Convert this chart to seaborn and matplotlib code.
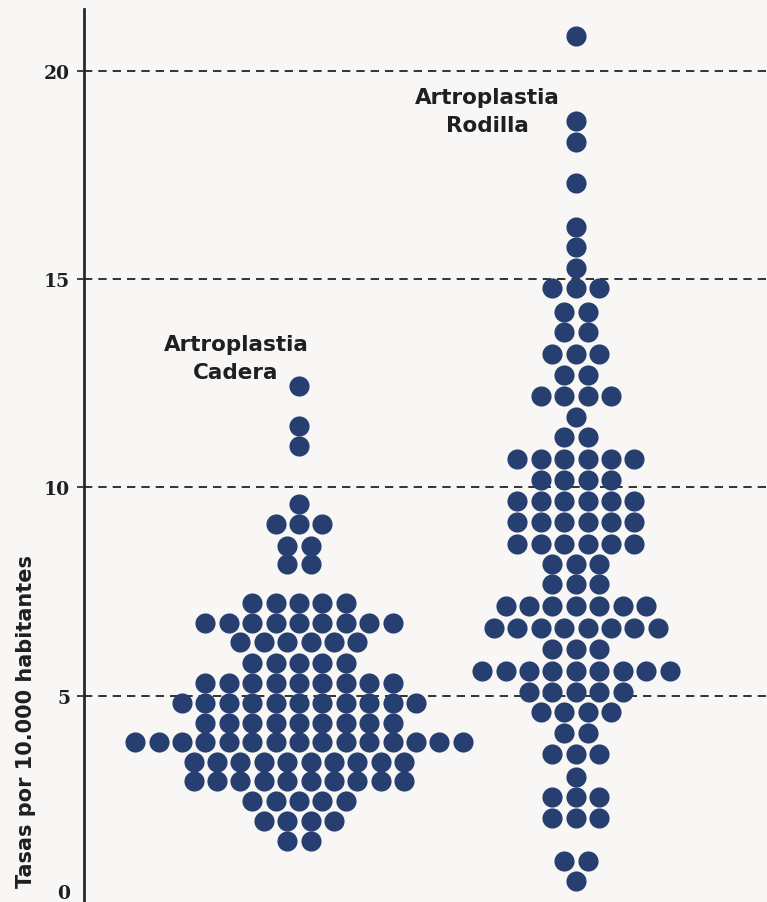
import numpy as np
import pandas as pd
import matplotlib
matplotlib.use("Agg")
import matplotlib.pyplot as plt
import matplotlib.transforms as mtransforms
import seaborn as sns

# rows of the dot plot: rate value of each row and number of dots in it
groups = ["Artroplastia\nCadera", "Artroplastia\nRodilla"]

cadera_vals = [12.43, 11.48, 11.00, 9.60, 9.12, 8.59, 8.16, 7.22, 6.74, 6.29,
               5.78, 5.30, 4.82, 4.34, 3.89, 3.41, 2.95, 2.47, 1.99, 1.51]
cadera_counts = [1, 1, 1, 1, 3, 2, 2, 5, 9, 6,
                 5, 9, 11, 9, 15, 10, 10, 5, 4, 2]

rodilla_vals = [20.84, 18.80, 18.28, 17.30, 16.26, 15.76, 15.26, 14.78, 14.20, 13.73,
                13.20, 12.70, 12.20, 11.70, 11.20, 10.68, 10.17, 9.68, 9.16, 8.64,
                8.16, 7.68, 7.16, 6.62, 6.12, 5.60, 5.10, 4.61, 4.10, 3.60,
                3.04, 2.56, 2.06, 1.04, 0.56]
rodilla_counts = [1, 1, 1, 1, 1, 1, 1, 3, 2, 2,
                  3, 2, 4, 1, 2, 6, 4, 6, 6, 6,
                  3, 3, 7, 8, 3, 9, 5, 4, 2, 3,
                  1, 3, 3, 2, 1]

y_ticks = [0, 5, 10, 15, 20]
grid_lines = [5, 10, 15, 20]

DOT = "#273f70"
TXT = "#1f1f1f"
step = 0.0845  # horizontal spacing between dots of one row

# expand rows into one record per dot, centred on the group position
rows = []
for gi, (vals, counts) in enumerate([(cadera_vals, cadera_counts),
                                     (rodilla_vals, rodilla_counts)]):
    for v, n in zip(vals, counts):
        for j in range(n):
            rows.append({"grupo": groups[gi],
                         "x": gi + (j - (n - 1) / 2) * step,
                         "tasa": v})
df = pd.DataFrame(rows)

sns.set_style("white")
fig = plt.figure(figsize=(7.67, 9.03), dpi=100, facecolor="#f8f7f5")
ax = fig.add_axes([84 / 767, -2 / 903, 1 - 84 / 767, 895 / 903])
ax.set_facecolor("#f8f7f5")

for g in grid_lines:
    ax.axhline(g, color="#111111", lw=1.2, ls=(0, (5, 3.6)), zorder=1)

sns.scatterplot(data=df, x="x", y="tasa", color=DOT, s=210,
                linewidth=0, legend=False, ax=ax, zorder=3)

ax.set_xlim(-0.776, 1.69)
ax.set_ylim(0, 21.48)
ax.set_xticks([])
ax.set_xlabel("")
ax.set_yticks(y_ticks)
ax.set_yticklabels([str(t) for t in y_ticks], family="DejaVu Serif",
                   fontweight="bold", fontsize=13.5, color=TXT)
ax.tick_params(axis="y", length=5, width=1.2, color="#222222", pad=5, left=True)

# lift the "0" so it is not cut by the bottom edge
zero = ax.get_yticklabels()[0]
zero.set_transform(zero.get_transform() +
                   mtransforms.ScaledTranslation(0, 9 / 72, fig.dpi_scale_trans))

for side in ["top", "right", "bottom"]:
    ax.spines[side].set_visible(False)
ax.spines["left"].set_color("#2a2a2a")
ax.spines["left"].set_linewidth(2)

ax.set_ylabel("Tasas por 10.000 habitantes", fontsize=15, fontweight="bold",
              color=TXT)
ax.yaxis.set_label_coords(-0.071, 0.205)

ax.text(-0.227, 13.1, groups[0], ha="center", va="center", fontsize=15.5,
        fontweight="bold", color=TXT, linespacing=1.5)
ax.text(0.682, 19.03, groups[1], ha="center", va="center", fontsize=15.5,
        fontweight="bold", color=TXT, linespacing=1.5)

fig.savefig("out.png", dpi=100, facecolor=fig.get_facecolor())
